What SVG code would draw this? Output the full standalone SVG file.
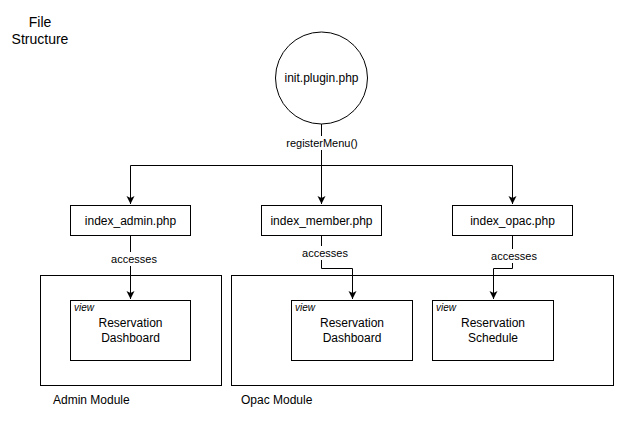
<svg xmlns="http://www.w3.org/2000/svg" width="640" height="441" viewBox="0 0 640 441">
<style>
.n{fill:#fff;stroke:#000;stroke-width:1}
.c{fill:none;stroke:#000;stroke-width:1}
.t{font-family:"Liberation Sans",Arial,sans-serif;font-size:12px;fill:#000;text-anchor:middle}
.h{font-family:"Liberation Sans",Arial,sans-serif;font-size:14px;fill:#000;text-anchor:middle}
.l{font-family:"Liberation Sans",Arial,sans-serif;font-size:11px;fill:#000;text-anchor:middle}
.v{font-family:"Liberation Sans",Arial,sans-serif;font-size:10px;font-style:italic;fill:#000}
.s{font-family:"Liberation Sans",Arial,sans-serif;font-size:12px;fill:#000}
.bg{fill:#fff;stroke:none}
</style>
<defs>
<marker id="ah" markerWidth="10" markerHeight="10" refX="8" refY="4" orient="auto" markerUnits="userSpaceOnUse">
<path d="M0,0 L8,4 L0,8 L2,4 z" fill="#000"/>
</marker>
</defs>
<rect width="640" height="441" fill="#fff"/>
<g id="title"><text class="h" x="40" y="27">File</text><text class="h" x="40" y="44">Structure</text></g>
<g id="admin-module"><rect class="n" x="40.5" y="275.5" width="181" height="110"/><text class="s" x="53" y="404">Admin Module</text></g>
<g id="opac-module"><rect class="n" x="231.5" y="275.5" width="382" height="110"/><text class="s" x="241" y="404">Opac Module</text></g>
<g id="connectors">
<path class="c" d="M321.5,124 V165.5 M130.5,165.5 H512.5" />
<path class="c" d="M130.5,165.5 V204" marker-end="url(#ah)"/>
<path class="c" d="M321.5,165.5 V204" marker-end="url(#ah)"/>
<path class="c" d="M512.5,165.5 V204" marker-end="url(#ah)"/>
<rect class="bg" x="284" y="136" width="76" height="14"/>
<text class="l" x="322" y="147">registerMenu()</text>
<path class="c" d="M130.5,235 V299" marker-end="url(#ah)"/>
<rect class="bg" x="109" y="252" width="50" height="14"/>
<text class="l" x="134" y="263">accesses</text>
<path class="c" d="M321.5,235 V268.5 H352.5 V299" marker-end="url(#ah)"/>
<rect class="bg" x="300" y="246" width="50" height="14"/>
<text class="l" x="325" y="257">accesses</text>
<path class="c" d="M512.5,235 V268.5 H493.5 V299" marker-end="url(#ah)"/>
<rect class="bg" x="489" y="249" width="50" height="14"/>
<text class="l" x="514" y="260">accesses</text>
</g>
<g id="init"><circle class="n" cx="321.5" cy="78" r="46"/><text class="t" x="321.5" y="82">init.plugin.php</text></g>
<g id="index-admin"><rect class="n" x="70.5" y="205.5" width="120" height="30"/><text class="t" x="130.5" y="225">index_admin.php</text></g>
<g id="index-member"><rect class="n" x="261.5" y="205.5" width="120" height="30"/><text class="t" x="321.5" y="225">index_member.php</text></g>
<g id="index-opac"><rect class="n" x="452.5" y="205.5" width="120" height="30"/><text class="t" x="512.5" y="225">index_opac.php</text></g>
<g id="view-admin"><rect class="n" x="70.5" y="300.5" width="120" height="60"/><text class="v" x="74" y="311">view</text><text class="t" x="130.5" y="327">Reservation</text><text class="t" x="130.5" y="342">Dashboard</text></g>
<g id="view-member"><rect class="n" x="291.5" y="300.5" width="121" height="60"/><text class="v" x="295" y="311">view</text><text class="t" x="352" y="327">Reservation</text><text class="t" x="352" y="342">Dashboard</text></g>
<g id="view-opac"><rect class="n" x="432.5" y="300.5" width="121" height="60"/><text class="v" x="436" y="311">view</text><text class="t" x="493" y="327">Reservation</text><text class="t" x="493" y="342">Schedule</text></g>
</svg>
